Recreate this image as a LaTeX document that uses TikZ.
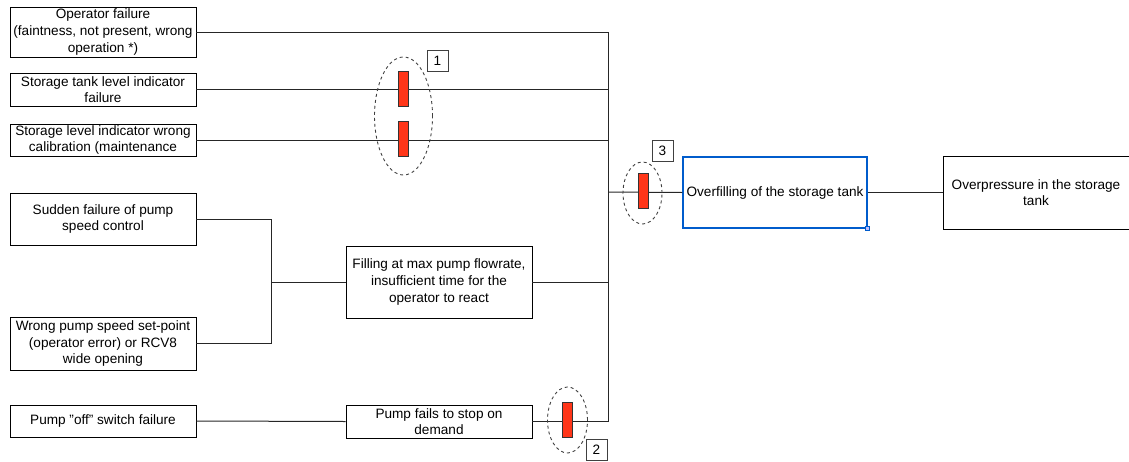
\documentclass[tikz,border=0pt]{standalone}
\usepackage{fontspec}
\setmainfont{Liberation Sans}
\usetikzlibrary{shapes.geometric}

\begin{document}
\begin{tikzpicture}[x=1pt,y=-1pt,
    every node/.style={font=\fontsize{13.6}{16.7}\selectfont},
    event/.style={draw,line width=0.9pt,align=center,inner sep=0pt},
    gate/.style={draw=black!80,fill=red!75!orange!90,line width=0.7pt,minimum width=10pt,minimum height=35pt,inner sep=0pt},
    halo/.style={draw=black!75,dashed,ellipse,line width=0.9pt,inner sep=0pt},
    tag/.style={draw=black!75,line width=0.9pt,minimum size=21pt,inner sep=0pt},
    wire/.style={draw=black!85,line width=1pt}]
  \useasboundingbox (0,0) rectangle (1129,461);
  % causes
  \node[event,minimum width=186pt,minimum height=50pt] (op) at (103,32) {Operator failure\\(faintness, not present, wrong\\operation *)};
  \node[event,minimum width=186pt,minimum height=33pt] (ind) at (103,89.5) {Storage tank level indicator\\failure};
  \node[event,minimum width=186pt,minimum height=32pt] (cal) at (103,140) {Storage level indicator wrong\\calibration (maintenance};
  \node[event,minimum width=186pt,minimum height=52pt] (sud) at (103,219) {Sudden failure of pump\\speed control};
  \node[event,minimum width=186pt,minimum height=53pt] (set) at (103,343.5) {Wrong pump speed set-point\\(operator error) or RCV8\\wide opening};
  \node[event,minimum width=186pt,minimum height=32pt] (sw) at (103,421) {Pump "off" switch failure};
  \node[event,minimum width=186pt,minimum height=72pt] (fill) at (439,282) {Filling at max pump flowrate,\\insufficient time for the\\operator to react};
  \node[event,minimum width=186pt,minimum height=33pt] (stop) at (439,421.5) {Pump fails to stop on\\demand};
  % top events
  \node[event,draw=blue!55!cyan!80!black,line width=1.4pt,minimum width=184pt,minimum height=71pt] (ovf) at (775,192.5) {Overfilling of the storage tank};
  \node[draw=blue!55!cyan!80!black,fill=blue!25,minimum size=4pt,inner sep=0pt,line width=0.5pt] (hd) at (ovf.south east) {};
  \node[event,minimum width=186pt,minimum height=73pt] (ovp) at (1036,192.5) {Overpressure in the storage\\tank};
  \coordinate (bus) at (608,192);
  \coordinate (pj) at (271,282);
  % connectors
  \draw[wire] (op.east) -| (bus);
  \draw[wire] (ind.east) -- (ind.east -| bus);
  \draw[wire] (cal.east) -- (cal.east -| bus);
  \draw[wire] (sud.east) -| (pj);
  \draw[wire] (set.east) -| (pj);
  \draw[wire] (pj) -- (fill.west);
  \draw[wire] (fill.east) -- (fill.east -| bus);
  \draw[wire] (sw.east) -- (stop.west);
  \draw[wire] (stop.east) -| (bus);
  \draw[wire] (bus) -- (ovf.west);
  \draw[wire] (ovf.east) -- (ovp.west);
  % barriers
  \node[gate] (g1a) at (403,88.5) {};
  \node[gate] (g1b) at (403,138.5) {};
  \node[halo,minimum width=58pt,minimum height=118pt] (h1) at (403.5,116) {};
  \node[tag] (t1) at (437.5,61) {1};
  \node[gate] (g2) at (567.5,420) {};
  \node[halo,minimum width=40pt,minimum height=66pt] (h2) at (567.5,420) {};
  \node[tag] (t2) at (596.5,450) {2};
  \node[gate] (g3) at (643,191) {};
  \node[halo,minimum width=39pt,minimum height=62pt] (h3) at (642.5,193) {};
  \node[tag] (t3) at (662.5,151) {3};
\end{tikzpicture}
\end{document}
